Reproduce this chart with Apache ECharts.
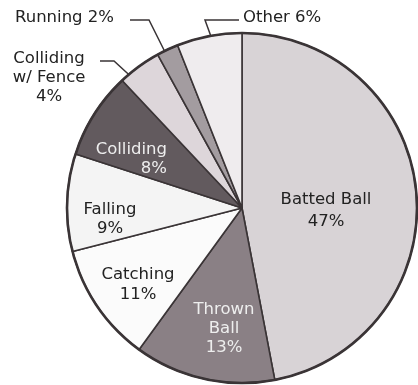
<!DOCTYPE html>
<html>
<head>
<meta charset="utf-8">
<style>
  html, body { margin: 0; padding: 0; background: #ffffff; }
  #chart { width: 418px; height: 385px; }
</style>
<script src="https://cdn.jsdelivr.net/npm/echarts@6/dist/echarts.min.js"></script>
</head>
<body>
<div id="chart"></div>
<script>
// Injury causes, share of all injuries (percent), clockwise from 12 o'clock
const categories = ['Batted Ball', 'Thrown Ball', 'Catching', 'Falling', 'Colliding', 'Colliding w/ Fence', 'Running', 'Other'];
const shares = [47, 13, 11, 9, 8, 4, 2, 6];
const labelTexts = ['Batted Ball\n47%', 'Thrown\nBall\n13%', 'Catching\n11%', 'Falling\n9%', 'Colliding\n8%', 'Colliding\nw/ Fence\n4%', 'Running 2%', 'Other 6%'];

// Slice fills and label colours
const sliceColors = ['#d8d3d6', '#8a8085', '#fbfbfb', '#f4f4f4', '#625a5e', '#ddd6da', '#a39ca0', '#efecee'];
const labelColors = ['#222', '#eeeeee', '#222', '#222', '#eeeeee', '#222', '#222', '#222'];
const outsideLabel = [false, false, false, false, false, true, true, true];

// Where each label sits, plus leader lines for the thin slices
const labelSpots = [
  { x: 326, y: 211, align: 'center', lh: 22 },
  { x: 224, y: 329, align: 'center', lh: 19 },
  { x: 138, y: 285, align: 'center', lh: 20 },
  { x: 110, y: 219, align: 'center', lh: 19 },
  { x: 167, y: 159, align: 'right', lh: 19 },
  { x: 49, y: 78, align: 'center', lh: 19, line: [[138, 83], [114, 61], [100, 61]] },
  { x: 114, y: 18, align: 'right', lh: 19, line: [[170, 62], [149, 20], [130, 20]] },
  { x: 243, y: 18, align: 'left', lh: 19, line: [[217, 53], [205, 20], [239, 20]] }
];

const pieData = categories.map((name, i) => ({
  name: name,
  value: shares[i],
  itemStyle: { color: sliceColors[i] },
  label: {
    position: outsideLabel[i] ? 'outside' : 'inside',
    formatter: labelTexts[i],
    color: labelColors[i],
    lineHeight: labelSpots[i].lh
  },
  labelLine: { show: outsideLabel[i] }
}));

const chart = echarts.init(document.getElementById('chart'), null, { renderer: 'canvas' });
chart.setOption({
  backgroundColor: '#ffffff',
  animation: false,
  series: [
    {
      type: 'pie',
      center: [242, 208],
      radius: 175,
      startAngle: 90,
      clockwise: true,
      avoidLabelOverlap: false,
      silent: true,
      itemStyle: { borderColor: '#3a3436', borderWidth: 1.6 },
      label: {
        show: true,
        fontFamily: '"DejaVu Sans", sans-serif',
        fontSize: 16.5
      },
      labelLine: {
        lineStyle: { color: '#3a3436', width: 1.5 }
      },
      labelLayout: function (params) {
        const s = labelSpots[params.dataIndex];
        const out = { x: s.x, y: s.y, align: s.align, verticalAlign: 'middle' };
        if (s.line) out.labelLinePoints = s.line;
        return out;
      },
      data: pieData
    },
    {
      // heavier outer rim
      type: 'pie',
      center: [242, 208],
      radius: 175,
      silent: true,
      label: { show: false },
      labelLine: { show: false },
      itemStyle: { color: 'rgba(0,0,0,0)', borderColor: '#3a3436', borderWidth: 2.6 },
      data: [{ name: 'rim', value: 1 }]
    }
  ]
});
</script>
</body>
</html>
